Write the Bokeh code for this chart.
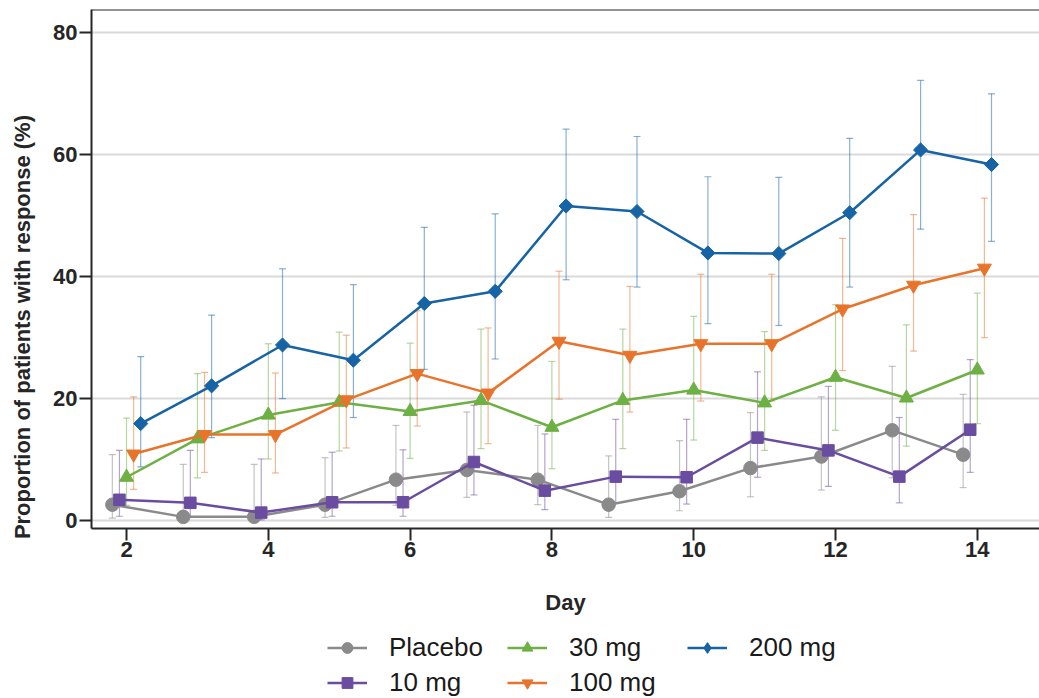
import numpy as np
from bokeh.plotting import figure
from bokeh.layouts import column
from bokeh.models import (ColumnDataSource, Whisker, TeeHead, Legend, LegendItem,
                          Range1d, FixedTicker, Span)
from bokeh.embed import file_html
from bokeh.resources import INLINE

# ---------------- data ----------------
days = [2, 3, 4, 5, 6, 7, 8, 9, 10, 11, 12, 13, 14]
x_ticks = [2, 4, 6, 8, 10, 12, 14]
y_ticks = [0, 20, 40, 60, 80]

placebo = [2.6, 0.6, 0.6, 2.6, 6.7, 8.3, 6.7, 2.6, 4.8, 8.6, 10.5, 14.8, 10.8]
placebo_lo = [0.4, 0.0, 0.0, 0.5, 2.5, 3.8, 2.6, 0.5, 1.6, 3.9, 5.0, 7.0, 5.4]
placebo_hi = [10.8, 9.2, 9.2, 10.3, 15.6, 17.8, 15.6, 10.6, 13.1, 17.7, 20.3, 25.3, 20.7]

mg10 = [3.4, 2.9, 1.3, 3.0, 3.0, 9.6, 4.9, 7.2, 7.1, 13.6, 11.5, 7.2, 14.9]
mg10_lo = [0.7, 0.6, 0.1, 0.7, 0.7, 4.2, 1.8, 2.8, 2.7, 7.1, 5.6, 2.9, 7.9]
mg10_hi = [11.5, 11.5, 10.1, 11.2, 11.6, 18.9, 14.2, 16.6, 16.6, 24.4, 22.0, 16.9, 26.4]

mg30 = [7.1, 13.4, 17.3, 19.4, 17.9, 19.7, 15.3, 19.7, 21.4, 19.3, 23.5, 20.1, 24.7]
mg30_lo = [2.5, 7.0, 10.1, 11.4, 10.2, 11.8, 8.5, 11.8, 13.2, 11.5, 14.8, 12.2, 15.9]
mg30_hi = [16.8, 24.1, 29.0, 30.9, 29.1, 31.4, 26.1, 31.4, 33.5, 31.0, 35.4, 32.1, 37.3]

mg100 = [10.9, 14.1, 14.1, 19.8, 24.1, 20.9, 29.4, 27.1, 29.0, 29.0, 34.7, 38.6, 41.4]
mg100_lo = [5.1, 7.9, 7.8, 11.9, 15.5, 12.6, 19.9, 17.8, 19.6, 19.6, 24.6, 27.8, 30.0]
mg100_hi = [20.3, 24.3, 24.2, 30.4, 34.4, 31.6, 40.9, 38.4, 40.4, 40.4, 46.3, 50.2, 52.9]

mg200 = [15.9, 22.1, 28.8, 26.3, 35.6, 37.6, 51.6, 50.7, 43.9, 43.8, 50.5, 60.8, 58.4]
mg200_lo = [8.8, 13.6, 20.0, 16.9, 24.8, 26.5, 39.5, 38.3, 32.3, 32.0, 38.3, 47.8, 45.8]
mg200_hi = [26.9, 33.7, 41.3, 38.7, 48.1, 50.3, 64.2, 63.0, 56.4, 56.3, 62.7, 72.2, 70.0]

series_names = ["Placebo", "10 mg", "30 mg", "100 mg", "200 mg"]

# ---------------- styles ----------------
colors = ["#8a8a8a", "#6a4ca0", "#6db043", "#e8742b", "#1663a5"]
markers = ["circle", "square", "triangle", "inverted_triangle", "square"]
leg_markers = ["circle", "square", "triangle", "inverted_triangle", "diamond"]
sizes = [13.5, 11.5, 14, 14, 10]
leg_sizes = [10, 9, 11, 11, 14]
angles = [0, 0, 0, 0, np.pi / 4]
dodge = [-0.2, -0.1, 0.0, 0.1, 0.2]

values = [placebo, mg10, mg30, mg100, mg200]
lows = [placebo_lo, mg10_lo, mg30_lo, mg100_lo, mg200_lo]
highs = [placebo_hi, mg10_hi, mg30_hi, mg100_hi, mg200_hi]

FONT = "Liberation Sans"
DARK = "#262626"
Y0, Y1 = -1.31, 83.84

p = figure(width=1039, height=628, output_backend="svg", toolbar_location=None,
           title=None,
           x_range=Range1d(1.506, 14.877), y_range=Range1d(Y0, Y1),
           min_border_left=91, min_border_right=0, min_border_top=9,
           min_border_bottom=100)
p.background_fill_color = "white"
p.border_fill_color = "white"
p.outline_line_color = None
p.add_layout(Span(location=Y1, dimension="width", line_color=DARK, line_width=2))

p.xgrid.visible = False
p.ygrid.grid_line_color = "#dadada"
p.ygrid.grid_line_width = 2

p.xaxis.ticker = FixedTicker(ticks=x_ticks)
p.yaxis.ticker = FixedTicker(ticks=y_ticks)
for ax in (p.xaxis, p.yaxis):
    ax.axis_line_color = DARK
    ax.axis_line_width = 2
    ax.major_tick_line_color = DARK
    ax.major_tick_line_width = 2
    ax.major_tick_in = 0
    ax.major_tick_out = 12
    ax.minor_tick_line_color = None
    ax.major_label_text_font = FONT
    ax.major_label_text_font_style = "bold"
    ax.major_label_text_font_size = "22px"
    ax.major_label_text_color = DARK
    ax.axis_label_text_font = FONT
    ax.axis_label_text_font_style = "bold"
    ax.axis_label_text_font_size = "22px"
    ax.axis_label_text_color = DARK

p.xaxis.axis_label = "Day"
p.xaxis.major_label_standoff = 1
p.xaxis.axis_label_standoff = 30
p.yaxis.axis_label = "Proportion of patients with response (%)" + "\u00a0" * 19
p.yaxis.major_label_standoff = 2
p.yaxis.axis_label_standoff = 15

# legend strip below the chart (its frame is aligned with the chart's frame)
lg = figure(width=1039, height=70, output_backend="svg", toolbar_location=None,
            title=None, x_axis_location=None, y_axis_location=None,
            x_range=Range1d(-2, -1), y_range=Range1d(-2, -1),
            min_border_left=0, min_border_right=0, min_border_top=0,
            min_border_bottom=0)
lg.outline_line_color = None
lg.grid.visible = False
lg.background_fill_color = "white"
lg.border_fill_color = "white"

items = []
for name, vals, lo, hi, c, mk, lmk, sz, lsz, ang, dx in zip(
        series_names, values, lows, highs, colors, markers, leg_markers,
        sizes, leg_sizes, angles, dodge):
    xs = [d + dx for d in days]
    src = ColumnDataSource(dict(x=xs, y=vals, lo=lo, hi=hi))
    wh = Whisker(source=src, base="x", upper="hi", lower="lo", dimension="height",
                 line_color=c, line_alpha=0.5, line_width=1.2, level="underlay",
                 upper_head=TeeHead(size=7, line_color=c, line_alpha=0.5, line_width=1.2),
                 lower_head=TeeHead(size=7, line_color=c, line_alpha=0.5, line_width=1.2))
    p.add_layout(wh)
    p.line("x", "y", source=src, line_color=c, line_width=2.5)
    p.scatter("x", "y", source=src, marker=mk, size=sz, angle=ang,
              fill_color=c, line_color=c, line_width=1)
    # legend glyphs: same series in the legend strip, whose ranges keep them out of view
    ln = lg.line("x", "y", source=src, line_color=c, line_width=2.5)
    sc = lg.scatter("x", "y", source=src, marker=lmk, size=lsz,
                    fill_color=c, line_color=c, line_width=1)
    items.append(LegendItem(label=name, renderers=[ln, sc]))

legend = Legend(items=items, location=(236, 0), orientation="vertical", nrows=2,
                label_text_font=FONT, label_text_font_size="26px",
                label_text_color="#1a1a1a",
                glyph_width=40, glyph_height=27, label_height=27, label_width=114,
                label_standoff=22, spacing=4, padding=2, margin=0,
                border_line_color=None, background_fill_alpha=0)
lg.add_layout(legend)

layout = column(p, lg, spacing=0)
open("out.html", "w").write(file_html(layout, INLINE))
